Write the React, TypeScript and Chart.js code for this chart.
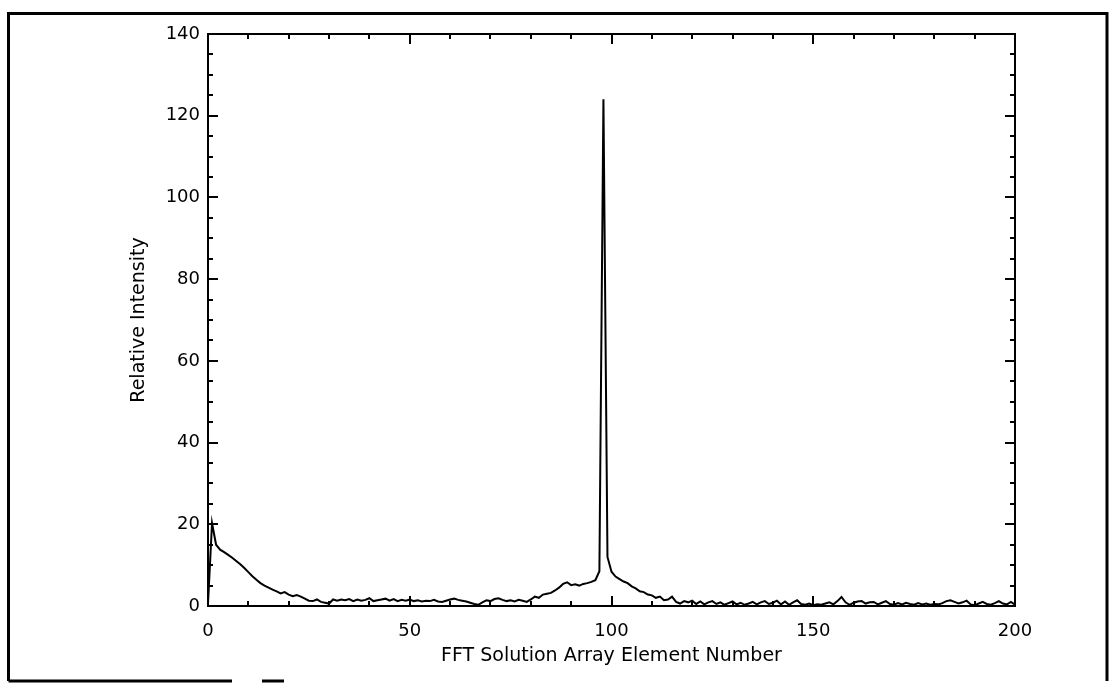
import React, { useEffect, useRef } from "react";
import { Chart, registerables } from "chart.js";

Chart.register(...registerables);

// Relative intensity for each FFT solution array element (0..200)
const intensity: number[] = [
  0.5, 20.3, 15.0, 13.8, 13.2, 12.5, 11.8, 11.0, 10.2, 9.3,
  8.3, 7.3, 6.4, 5.6, 5.0, 4.5, 4.0, 3.6, 3.1, 3.4,
  2.8, 2.4, 2.7, 2.3, 1.8, 1.3, 1.2, 1.6, 1.0, 0.8,
  0.6, 1.6, 1.3, 1.6, 1.4, 1.7, 1.2, 1.6, 1.3, 1.5,
  1.9, 1.2, 1.4, 1.6, 1.8, 1.3, 1.7, 1.2, 1.5, 1.3,
  1.6, 1.2, 1.4, 1.1, 1.3, 1.2, 1.5, 1.1, 1.0, 1.3,
  1.6, 1.8, 1.5, 1.3, 1.1, 0.8, 0.5, 0.3, 0.9, 1.4,
  1.2, 1.7, 1.9, 1.5, 1.2, 1.4, 1.1, 1.5, 1.3, 1.0,
  1.6, 2.3, 2.0, 2.8, 3.0, 3.2, 3.8, 4.5, 5.4, 5.8,
  5.1, 5.3, 5.0, 5.4, 5.6, 5.9, 6.3, 8.5, 124.0, 12.0,
  8.4, 7.2, 6.6, 6.0, 5.6, 4.8, 4.3, 3.6, 3.4, 2.8,
  2.6, 2.0, 2.3, 1.4, 1.6, 2.3, 1.0, 0.6, 1.2, 0.9,
  1.3, 0.5, 1.1, 0.4, 0.9, 1.2, 0.5, 0.9, 0.3, 0.7,
  1.1, 0.4, 0.8, 0.3, 0.6, 1.0, 0.4, 0.9, 1.2, 0.5,
  0.8, 1.3, 0.4, 1.1, 0.3, 0.9, 1.4, 0.5, 0.3, 0.6,
  0.2, 0.4, 0.3, 0.6, 0.9, 0.4, 1.2, 2.2, 0.9, 0.3,
  0.8, 1.1, 1.2, 0.6, 0.9, 1.0, 0.4, 0.8, 1.2, 0.5,
  0.3, 0.7, 0.4, 0.8, 0.5, 0.3, 0.7, 0.4, 0.6, 0.3,
  0.5, 0.4, 0.7, 1.2, 1.4, 1.0, 0.6, 0.9, 1.3, 0.4,
  0.2, 0.6, 1.0, 0.5, 0.3, 0.7, 1.2, 0.6, 0.4, 1.0,
  0.3,
];
const elementNumbers: number[] = intensity.map((_, i) => i);

const X_TITLE = "FFT Solution Array Element Number";
const Y_TITLE = "Relative Intensity";
const X_MIN = 0, X_MAX = 200, X_MAJOR = 50, X_MINOR = 10;
const Y_MIN = 0, Y_MAX = 140, Y_MAJOR = 20, Y_MINOR = 5;

const FONT = "'DejaVu Sans', 'Liberation Sans', sans-serif";

const innerTicks = {
  id: "innerTicks",
  afterDraw(chart: any) {
    const { ctx, chartArea } = chart;
    const { left, right, top, bottom } = chartArea;
    const xs = chart.scales.x;
    const ys = chart.scales.y;
    const MAJ = 10, MIN = 5;
    ctx.save();
    ctx.strokeStyle = "#000";
    ctx.lineWidth = 2;
    const seg = (a: number, b: number, c: number, d: number) => {
      ctx.beginPath();
      ctx.moveTo(a, b);
      ctx.lineTo(c, d);
      ctx.stroke();
    };
    for (let v = X_MIN; v <= X_MAX; v += X_MINOR) {
      const p = Math.round(xs.getPixelForValue(v));
      const len = v % X_MAJOR === 0 ? MAJ : MIN;
      seg(p, bottom, p, bottom - len);
      seg(p, top, p, top + len);
    }
    for (let v = Y_MIN; v <= Y_MAX; v += Y_MINOR) {
      const p = Math.round(ys.getPixelForValue(v));
      const len = v % Y_MAJOR === 0 ? MAJ : MIN;
      seg(left, p, left + len, p);
      seg(right, p, right - len, p);
    }
    ctx.restore();
  },
};

const frame = {
  id: "frame",
  beforeDraw(chart: any) {
    const { ctx } = chart;
    ctx.save();
    ctx.strokeStyle = "#000";
    ctx.lineWidth = 3;
    ctx.beginPath();
    ctx.moveTo(8.5, 681);
    ctx.lineTo(8.5, 13.5);
    ctx.lineTo(1107, 13.5);
    ctx.lineTo(1107, 681);
    ctx.stroke();
    ctx.beginPath();
    ctx.moveTo(8.5, 681);
    ctx.lineTo(232, 681);
    ctx.moveTo(262, 681);
    ctx.lineTo(284, 681);
    ctx.stroke();
    ctx.restore();
  },
};

export default function App() {
  const ref = useRef<HTMLCanvasElement | null>(null);
  useEffect(() => {
    document.body.style.margin = "0";
    const canvas = ref.current;
    if (!canvas) return;
    const chart = new Chart(canvas, {
      type: "line",
      data: {
        datasets: [
          {
            data: elementNumbers.map((x, i) => ({ x, y: intensity[i] })),
            borderColor: "#000",
            borderWidth: 2,
            pointRadius: 0,
            tension: 0,
            fill: false,
          },
        ],
      },
      options: {
        animation: false,
        responsive: false,
        maintainAspectRatio: false,
        layout: { padding: { left: 0, top: 34, right: 100, bottom: 0 } },
        plugins: { legend: { display: false }, tooltip: { enabled: false } },
        scales: {
          x: {
            type: "linear",
            position: "bottom",
            min: X_MIN,
            max: X_MAX,
            ticks: {
              stepSize: X_MAJOR,
              color: "#000",
              padding: 15,
              maxRotation: 0,
              font: { family: FONT, size: 18 },
            },
            grid: { drawOnChartArea: false, drawTicks: false },
            border: { display: true, color: "#000", width: 2 },
            title: {
              display: true,
              text: X_TITLE,
              color: "#000",
              font: { family: FONT, size: 19 },
              padding: { top: 0, bottom: 17 },
            },
            afterFit(scale: any) {
              scale.height = 78;
            },
          },
          x2: {
            type: "linear",
            position: "top",
            min: X_MIN,
            max: X_MAX,
            ticks: { display: false, stepSize: X_MAJOR },
            grid: { drawOnChartArea: false, drawTicks: false },
            border: { display: true, color: "#000", width: 2 },
            afterFit(scale: any) {
              scale.height = 0;
            },
          },
          y: {
            type: "linear",
            position: "left",
            min: Y_MIN,
            max: Y_MAX,
            ticks: {
              stepSize: Y_MAJOR,
              color: "#000",
              padding: 8,
              font: { family: FONT, size: 18 },
            },
            grid: { drawOnChartArea: false, drawTicks: false },
            border: { display: true, color: "#000", width: 2 },
            title: {
              display: true,
              text: Y_TITLE,
              color: "#000",
              font: { family: FONT, size: 19 },
              padding: { top: 128, bottom: 0 },
            },
            afterFit(scale: any) {
              scale.width = 208;
            },
          },
          y2: {
            type: "linear",
            position: "right",
            min: Y_MIN,
            max: Y_MAX,
            ticks: { display: false, stepSize: Y_MAJOR },
            grid: { drawOnChartArea: false, drawTicks: false },
            border: { display: true, color: "#000", width: 2 },
            afterFit(scale: any) {
              scale.width = 0;
            },
          },
        },
      },
      plugins: [frame, innerTicks],
    });
    return () => chart.destroy();
  }, []);
  return (
    <div style={{ position: "absolute", left: 0, top: 0, width: 1115, height: 684, background: "#fff" }}>
      <canvas ref={ref} width={1115} height={684} style={{ width: 1115, height: 684, display: "block" }} />
    </div>
  );
}
